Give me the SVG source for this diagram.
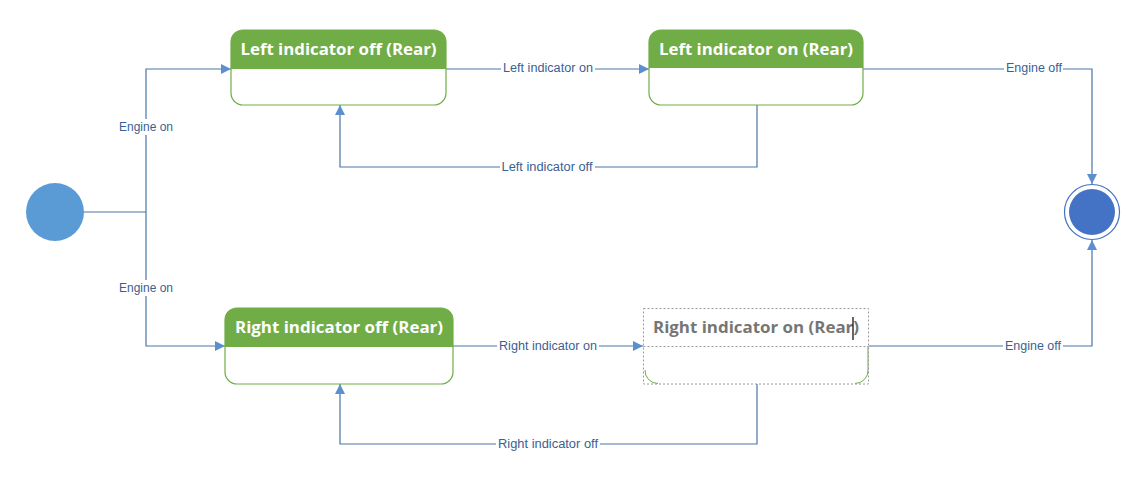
<svg xmlns="http://www.w3.org/2000/svg" width="1145" height="499" viewBox="0 0 1145 499">
<style>
.conn{fill:none;stroke:#4a76aa;stroke-width:1.2}
.lblbg{fill:#ffffff}
.lbl{font-family:"Liberation Sans","Noto Sans",sans-serif;font-size:12px;fill:#3a5f92;text-anchor:middle;dominant-baseline:central}
.body{fill:#ffffff;stroke:#70ad47;stroke-width:1.2}
.head{fill:#70ad47}
.title{font-family:"Open Sans","Liberation Sans",sans-serif;font-weight:bold;font-size:16px;fill:#ffffff;text-anchor:middle;dominant-baseline:central}
</style>
<defs>
<marker id="arr" viewBox="0 0 10 10" refX="10" refY="5" markerWidth="10" markerHeight="10" markerUnits="userSpaceOnUse" orient="auto">
<path d="M0,0 L10,5 L0,10 Z" fill="#5b8fd0"/>
</marker>
</defs>
<rect width="1145" height="499" fill="#ffffff"/>
<g id="connectors">
<path class="conn" d="M84,212 H146"/>
<path class="conn" d="M146,212 V69 H231" marker-end="url(#arr)"/>
<path class="conn" d="M146,212 V346 H225" marker-end="url(#arr)"/>
<path class="conn" d="M446,69 H649" marker-end="url(#arr)"/>
<path class="conn" d="M757,105 V167 H340 V105" marker-end="url(#arr)"/>
<path class="conn" d="M863,69 H1092 V184" marker-end="url(#arr)"/>
<path class="conn" d="M453,346 H643" marker-end="url(#arr)"/>
<path class="conn" d="M757,384 V444 H340 V384" marker-end="url(#arr)"/>
<path class="conn" d="M869,346 H1092 V240" marker-end="url(#arr)"/>
<rect class="lblbg" x="117" y="119" width="57" height="16"/>
<text class="lbl" x="146" y="127" textLength="54" lengthAdjust="spacingAndGlyphs">Engine on</text>
<rect class="lblbg" x="117" y="280" width="57" height="16"/>
<text class="lbl" x="146" y="288" textLength="54" lengthAdjust="spacingAndGlyphs">Engine on</text>
<rect class="lblbg" x="501" y="60" width="94" height="16"/>
<text class="lbl" x="548" y="68" textLength="90" lengthAdjust="spacingAndGlyphs">Left indicator on</text>
<rect class="lblbg" x="500" y="159" width="95" height="16"/>
<text class="lbl" x="547" y="167" textLength="91" lengthAdjust="spacingAndGlyphs">Left indicator off</text>
<rect class="lblbg" x="1004" y="60" width="59" height="16"/>
<text class="lbl" x="1034" y="68" textLength="56" lengthAdjust="spacingAndGlyphs">Engine off</text>
<rect class="lblbg" x="497" y="338" width="102" height="16"/>
<text class="lbl" x="548" y="346" textLength="98" lengthAdjust="spacingAndGlyphs">Right indicator on</text>
<rect class="lblbg" x="496" y="436" width="104" height="16"/>
<text class="lbl" x="548" y="444" textLength="100" lengthAdjust="spacingAndGlyphs">Right indicator off</text>
<rect class="lblbg" x="1003" y="338" width="60" height="16"/>
<text class="lbl" x="1033" y="346" textLength="56" lengthAdjust="spacingAndGlyphs">Engine off</text>
</g>
<g id="initial">
<circle cx="55" cy="212" r="29" fill="#5b9bd5"/>
</g>
<g id="final">
<circle cx="1092" cy="212" r="27.5" fill="#ffffff" stroke="#4472c4" stroke-width="1.2"/>
<circle cx="1092" cy="212" r="23" fill="#4472c4"/>
</g>
<g id="left-off">
<rect class="body" x="231" y="30" width="215" height="75" rx="12" ry="12"/>
<path class="head" d="M231,69 V42 A12,12 0 0 1 243,30 H434 A12,12 0 0 1 446,42 V69 Z"/>
<text class="title" x="338.5" y="49" textLength="196" lengthAdjust="spacingAndGlyphs">Left indicator off (Rear)</text>
</g>
<g id="left-on">
<rect class="body" x="649" y="30" width="214" height="75" rx="12" ry="12"/>
<path class="head" d="M649,68 V42 A12,12 0 0 1 661,30 H851 A12,12 0 0 1 863,42 V68 Z"/>
<text class="title" x="756" y="49" textLength="194" lengthAdjust="spacingAndGlyphs">Left indicator on (Rear)</text>
</g>
<g id="right-off">
<rect class="body" x="225" y="308" width="228" height="76" rx="12" ry="12"/>
<path class="head" d="M225,347 V320 A12,12 0 0 1 237,308 H441 A12,12 0 0 1 453,320 V347 Z"/>
<text class="title" x="339" y="327" textLength="208" lengthAdjust="spacingAndGlyphs">Right indicator off (Rear)</text>
</g>
<g id="right-on">
<path d="M645,370 A13,13 0 0 0 658,383.5" fill="none" stroke="#70ad47" stroke-width="1"/>
<path d="M868,346 V370 A13,13 0 0 1 855,383.5" fill="none" stroke="#70ad47" stroke-width="1"/>
<rect x="643.5" y="308.5" width="225" height="75.5" fill="none" stroke="#9a9a9a" stroke-width="1" stroke-dasharray="2,2"/>
<line x1="643.5" y1="346.5" x2="868.5" y2="346.5" stroke="#9a9a9a" stroke-width="1" stroke-dasharray="2,2"/>
<text x="756" y="327" font-family="'Open Sans','Liberation Sans',sans-serif" font-weight="bold" font-size="16" fill="#767676" text-anchor="middle" dominant-baseline="central" textLength="206" lengthAdjust="spacingAndGlyphs">Right indicator on (Rear)</text>
<line x1="853" y1="317" x2="853" y2="340" stroke="#000000" stroke-width="1.2"/>
</g>
</svg>
